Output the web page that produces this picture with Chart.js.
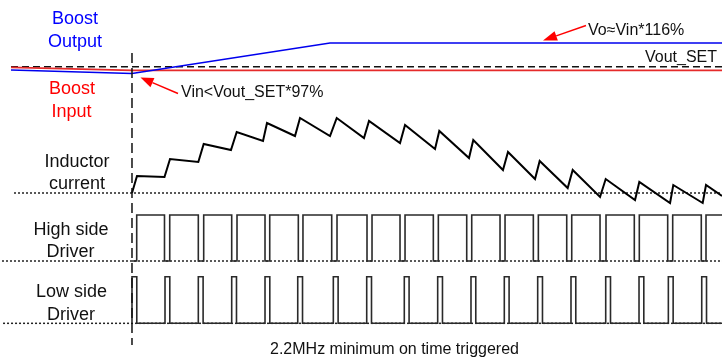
<!DOCTYPE html>
<html>
<head>
<meta charset="utf-8">
<title>Boost minimum on time</title>
<script src="https://cdn.jsdelivr.net/npm/chart.js"></script>
<style>
  html, body { margin: 0; padding: 0; background: #fff; }
  #wrap { width: 722px; height: 360px; position: relative; }
</style>
</head>
<body>
<div id="wrap"><canvas id="timing"></canvas></div>
<script>
// time in ns, 0 = the moment Vin falls below Vout_SET*97%
const timeRange = [-1791, 8006]

// supply rails (V)
const vinT = [-1642, 0, 8006]
const vinV = [4.97, 4.85, 4.85]
const voutT = [-1642, 0, 2687, 8006]
const voutV = [4.87, 4.73, 5.95, 5.95]
const voutSet = 5.0

// inductor current (A)
const iLPeakT = [68, 516, 973, 1421, 1832, 2280, 2778, 3216, 3705, 4170, 4631, 5102, 5532, 5980, 6428, 6884, 7345, 7789]
const iLPeak = [0.68, 1.36, 1.96, 2.44, 2.80, 3.00, 3.00, 2.88, 2.72, 2.48, 2.12, 1.64, 1.28, 0.92, 0.56, 0.44, 0.32, 0.32]
const iLValleyT = [441, 900, 1343, 1778, 2212, 2687, 3148, 3637, 4112, 4573, 5034, 5469, 5912, 6351, 6826, 7301, 7744]
const iLValley = [0.64, 1.24, 1.72, 2.08, 2.28, 2.28, 2.20, 2.00, 1.76, 1.40, 0.92, 0.56, 0.20, -0.16, -0.28, -0.40, -0.40]
const iLEnd = -0.12

// gate drivers: edge times (ns)
const hsOn = [64, 512, 973, 1425, 1869, 2320, 2782, 3257, 3705, 4157, 4610, 5062, 5514, 5967, 6432, 6884, 7337, 7789]
const hsOff = [441, 900, 1353, 1805, 2257, 2710, 3189, 3637, 4089, 4542, 4994, 5446, 5899, 6351, 6816, 7269, 7725]
const lsOn = [0, 448, 900, 1353, 1805, 2249, 2732, 3185, 3695, 4148, 4600, 5052, 5505, 5957, 6428, 6880, 7278, 7731]
const tOnMin = 65

// where the dotted zero lines start (ns)
const zeroStart = { iL: -1601, hs: -1764, ls: -1750 }

const FONT = '"Liberation Sans", Arial, sans-serif'

function pts(xs, ys) {
  return xs.map((x, i) => ({ x: x, y: ys[i] }))
}

const iLData = [{ x: 0, y: 0 }]
iLPeak.forEach((v, i) => {
  iLData.push({ x: iLPeakT[i], y: v })
  if (i < iLValley.length) iLData.push({ x: iLValleyT[i], y: iLValley[i] })
})
iLData.push({ x: timeRange[1], y: iLEnd })

const hsData = [{ x: 0, y: 0 }, { x: hsOn[0], y: 1 }]
hsOff.forEach((t, i) => {
  hsData.push({ x: t, y: 0 })
  hsData.push({ x: hsOn[i + 1], y: 1 })
})
hsData.push({ x: timeRange[1], y: 1 })

const lsData = [{ x: 0, y: 0 }]
lsOn.forEach((t) => {
  lsData.push({ x: t, y: 1 })
  lsData.push({ x: t + tOnMin, y: 0 })
})
lsData.push({ x: timeRange[1], y: 0 })

function zeroLine(start, axis) {
  return {
    data: [{ x: start, y: 0 }, { x: timeRange[1], y: 0 }],
    yAxisID: axis,
    borderColor: "#222",
    borderWidth: 1.5,
    borderDash: [2, 2],
  }
}

function arrow(ctx, x1, y1, x2, y2, len, w) {
  const a = Math.atan2(y2 - y1, x2 - x1)
  const bx = x2 - len * Math.cos(a)
  const by = y2 - len * Math.sin(a)
  ctx.beginPath()
  ctx.moveTo(x1, y1)
  ctx.lineTo(bx, by)
  ctx.stroke()
  ctx.beginPath()
  ctx.moveTo(x2, y2)
  ctx.lineTo(bx + (w / 2) * Math.sin(a), by - (w / 2) * Math.cos(a))
  ctx.lineTo(bx - (w / 2) * Math.sin(a), by + (w / 2) * Math.cos(a))
  ctx.closePath()
  ctx.fill()
}

const labels = {
  id: "labels",
  afterDraw(chart) {
    const ctx = chart.ctx
    const x0 = chart.scales.x.getPixelForValue(0)
    ctx.save()

    // trigger marker
    ctx.strokeStyle = "#111"
    ctx.lineWidth = 1.5
    ctx.setLineDash([10, 5])
    ctx.beginPath()
    ctx.moveTo(x0, 53)
    ctx.lineTo(x0, 345)
    ctx.stroke()
    ctx.setLineDash([])

    ctx.textAlign = "center"
    ctx.textBaseline = "alphabetic"
    ctx.font = "18px " + FONT
    ctx.fillStyle = "#0000ff"
    ctx.fillText("Boost", 75, 24)
    ctx.fillText("Output", 75, 46.5)
    ctx.fillStyle = "#ff0000"
    ctx.fillText("Boost", 72, 94)
    ctx.fillText("Input", 71.5, 117)
    ctx.fillStyle = "#111"
    ctx.fillText("Inductor", 77, 166.5)
    ctx.fillText("current", 77, 188.5)
    ctx.fillText("High side", 71, 234.5)
    ctx.fillText("Driver", 70.5, 257)
    ctx.fillText("Low side", 71.5, 297)
    ctx.fillText("Driver", 71, 320)

    ctx.font = "16px " + FONT
    ctx.fillText("2.2MHz minimum on time triggered", 394.5, 354)
    ctx.textAlign = "left"
    ctx.fillText("Vin<Vout_SET*97%", 181, 96.5)
    ctx.fillText("Vo\u2248Vin*116%", 588, 35)
    ctx.textAlign = "right"
    ctx.fillText("Vout_SET", 717, 61.5)

    ctx.strokeStyle = "#ff0000"
    ctx.fillStyle = "#ff0000"
    ctx.lineWidth = 1.5
    arrow(ctx, 178, 93.5, 140.5, 77.5, 13, 10)
    arrow(ctx, 586, 25.5, 543, 40.5, 14, 10)
    ctx.restore()
  },
}

new Chart(document.getElementById("timing"), {
  type: "line",
  data: {
    datasets: [
      { data: pts(voutT, voutV), yAxisID: "yV", borderColor: "#0000ee", borderWidth: 1.5 },
      { data: pts(vinT, vinV), yAxisID: "yV", borderColor: "#e52b2b", borderWidth: 1.8 },
      {
        data: [{ x: vinT[0], y: voutSet }, { x: timeRange[1], y: voutSet }],
        yAxisID: "yV",
        borderColor: "#111",
        borderWidth: 1.5,
        borderDash: [7, 4],
      },
      { data: iLData, yAxisID: "yIL", borderColor: "#000", borderWidth: 2, borderJoinStyle: "miter" },
      { data: hsData, yAxisID: "yHS", borderColor: "#2a2a2a", borderWidth: 1.6, stepped: true },
      { data: lsData, yAxisID: "yLS", borderColor: "#2a2a2a", borderWidth: 1.6, stepped: true },
      zeroLine(zeroStart.iL, "yIL"),
      zeroLine(zeroStart.hs, "yHS"),
      zeroLine(zeroStart.ls, "yLS"),
    ],
  },
  options: {
    responsive: true,
    maintainAspectRatio: false,
    animation: false,
    layout: { padding: 0 },
    elements: { point: { radius: 0 }, line: { tension: 0, fill: false } },
    plugins: { legend: { display: false }, tooltip: { enabled: false } },
    scales: {
      x: { type: "linear", min: timeRange[0], max: timeRange[1], display: false },
      yV: { type: "linear", min: -6.732, max: 7.668, display: false },
      yIL: { type: "linear", min: -6.68, max: 7.72, display: false },
      yHS: { type: "linear", min: -2.152, max: 5.674, display: false },
      yLS: { type: "linear", min: -0.787, max: 6.938, display: false },
    },
  },
  plugins: [labels],
})
</script>
</body>
</html>
